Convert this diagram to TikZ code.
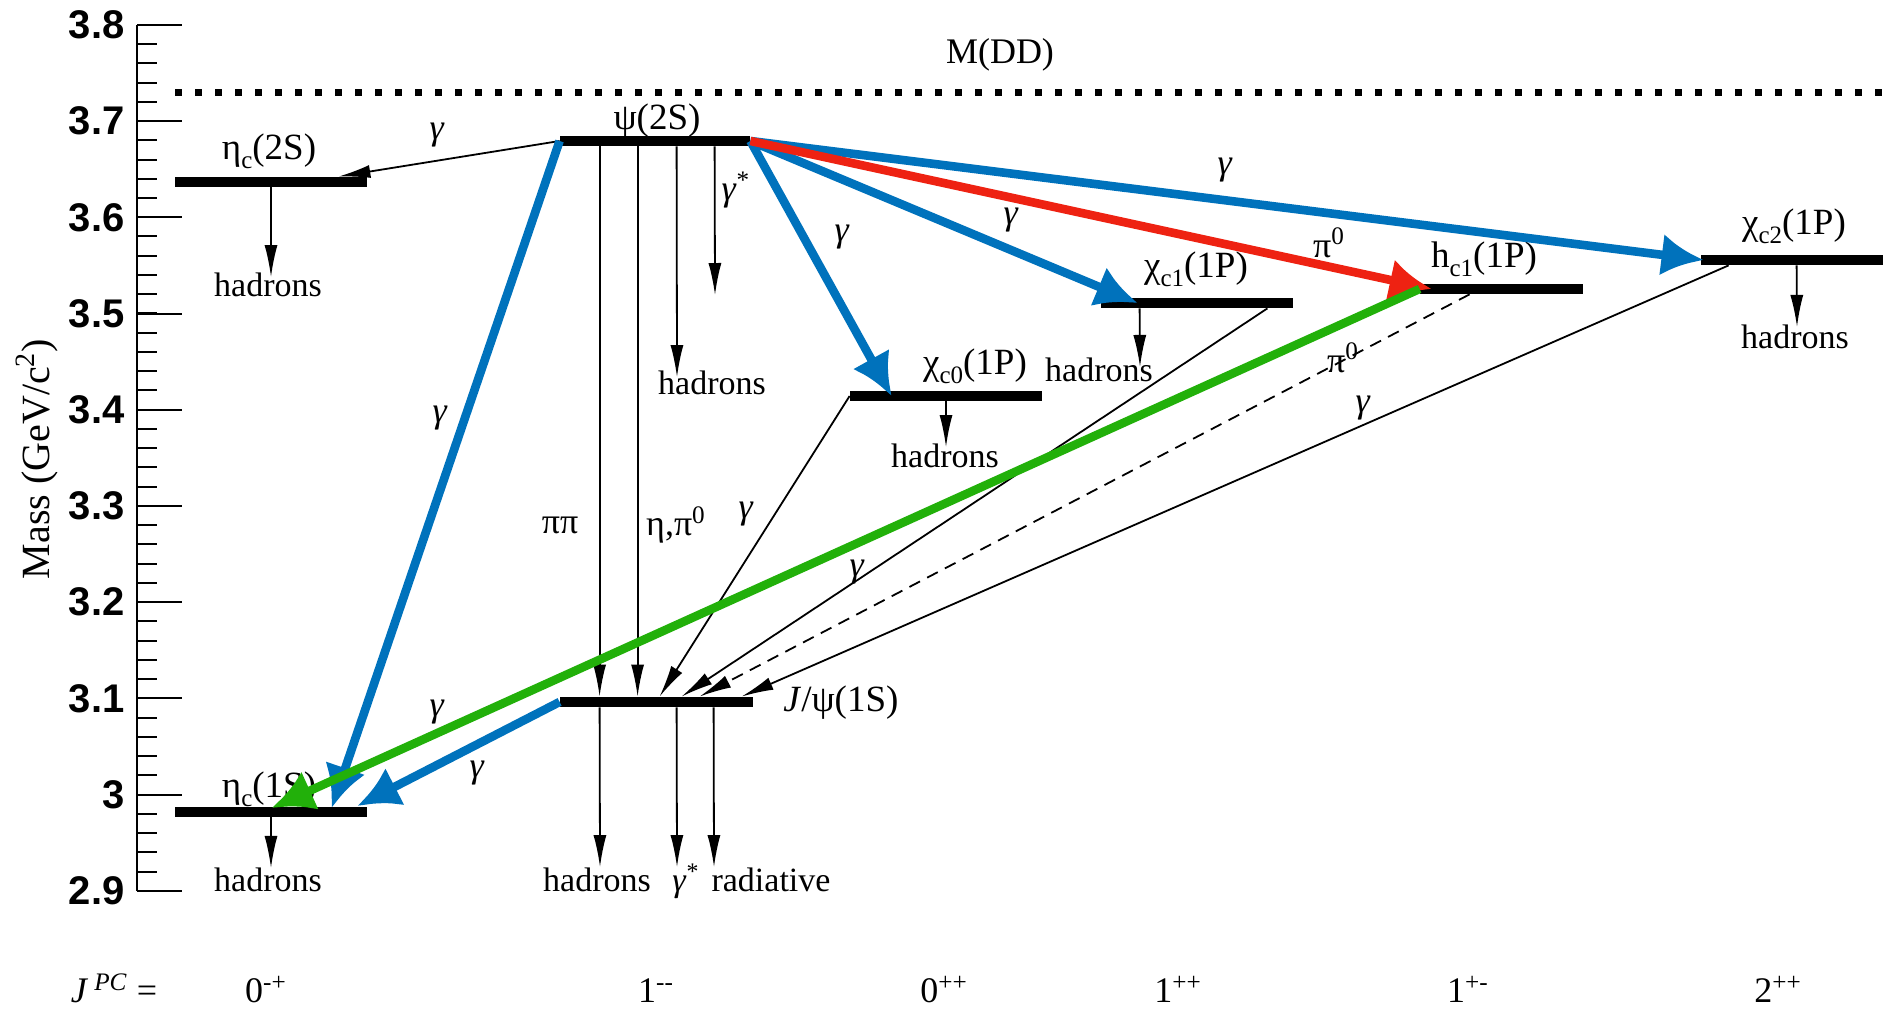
\documentclass[tikz,border=0pt]{standalone}
\usepackage{fontspec}
\setmainfont{Liberation Serif}
\newfontfamily\ticksans{Liberation Sans}
\usetikzlibrary{arrows.meta}
\definecolor{gamblue}{HTML}{0072BC}
\definecolor{pired}{HTML}{EE2212}
\definecolor{hgreen}{HTML}{22B00A}
\tikzset{
  >={Latex[length=16pt,width=6.5pt]},
  tr/.style={->,line width=0.9pt},
  fat/.style={-{Latex[length=21pt,width=21pt]},line width=4.3pt},
}
\newcommand{\lsub}[1]{\raisebox{-4.5pt}{\fontsize{12.5}{13}\selectfont #1}}
\newcommand{\gam}{\textit{γ}}

\begin{document}
\begin{tikzpicture}[x=0.5pt,y=481pt,
  level/.style={fill=black,inner sep=0pt,minimum height=5pt},
  state/.style={anchor=base,inner sep=0pt,font=\fontsize{18.5}{20}\selectfont},
  fin/.style={anchor=base,inner sep=0pt,font=\fontsize{17}{19}\selectfont},
  lab/.style={inner sep=0pt,font=\fontsize{18}{20}\selectfont},
  jpc/.style={anchor=base,inner sep=0pt,font=\fontsize{18}{20}\selectfont},
  tick/.style={anchor=east,inner sep=0pt,font=\ticksans\bfseries\fontsize{20}{22}\selectfont},
  axis/.style={line width=1pt},
]
  \useasboundingbox (0,2.7771) rectangle (1883,3.826);

  % mass axis
  \draw[axis] (137,2.9) -- (137,3.8);
  \foreach \i in {0,...,45}
    \draw[axis] (137,2.9+0.02*\i) -- ++(20,0);
  \foreach \m [count=\i] in {2.9,3,3.1,3.2,3.3,3.4,3.5,3.6,3.7,3.8} {
    \draw[axis] (137,\m) -- ++(45,0);
    \node[tick] (t\i) at (125,\m) {\m};
  }
  \node[rotate=90,inner sep=0pt,font=\fontsize{20}{22}\selectfont] (ylab) at (37,3.3489)
    {Mass (GeV/c\textsuperscript{2})};

  % DD threshold
  \coordinate (ddL) at (175,3.7293);
  \coordinate (ddR) at (1883,3.7293);
  \draw[line width=3.5pt,dash pattern=on 3.5pt off 6.5pt] (ddL) -- (ddR);
  \node[lab] (mdd) at (1000,3.7688) {M(DD)};

  % levels
  \node[level,minimum width=96pt] (etac2S) at (271,3.6368) {};
  \node[level,minimum width=96pt] (etac1S) at (271,2.9819) {};
  \node[level,minimum width=95pt] (psi2S) at (655,3.6794) {};
  \node[level,minimum width=96.5pt] (Jpsi) at (656.5,3.0963) {};
  \node[level,minimum width=96pt] (chic0) at (946,3.4143) {};
  \node[level,minimum width=96pt] (chic1) at (1197,3.511) {};
  \node[level,minimum width=81.5pt] (hc1) at (1501.5,3.5256) {};
  \node[level,minimum width=91pt] (chic2) at (1792,3.5557) {};

  \node[state] (lEtac2S) at (269,3.6597) {η\lsub{c}(2S)};
  \node[state] (lEtac1S) at (269,2.9965) {η\lsub{c}(1S)};
  \node[state] (lPsi2S) at (657,3.6909) {ψ(2S)};
  \node[state,anchor=base west] (lJpsi) at (783,3.0859) {\textit{J}/ψ(1S)};
  \node[state] (lChic0) at (975,3.4362) {χ\lsub{c0}(1P)};
  \node[state] (lChic1) at (1196,3.537) {χ\lsub{c1}(1P)};
  \node[state] (lHc1) at (1484,3.5484) {h\lsub{c1}(1P)};
  \node[state] (lChic2) at (1794,3.5817) {χ\lsub{c2}(1P)};

  % final states
  \node[fin] (hEtac2S) at (268,3.5173) {hadrons};
  \node[fin] (hEtac1S) at (268,2.8988) {hadrons};
  \node[fin] (hPsi2S) at (712,3.4154) {hadrons};
  \node[fin] (hChic0) at (945,3.3395) {hadrons};
  \node[fin] (hChic1) at (1099,3.4289) {hadrons};
  \node[fin] (hChic2) at (1795,3.4642) {hadrons};
  \node[fin] (hJpsi) at (597,2.8988) {hadrons};
  \node[fin] (sJpsi) at (686,2.8988) {\gam\textsuperscript{*}};
  \node[fin] (rJpsi) at (771,2.8988) {radiative};

  \coordinate (eEtac2S) at (271,3.538);
  \coordinate (eEtac1S) at (271,2.9237);
  \coordinate (ePsiHad) at (677,3.434);
  \coordinate (ePsiGam) at (715,3.5193);
  \coordinate (eChic0) at (946,3.3613);
  \coordinate (eChic1) at (1140,3.4445);
  \coordinate (eChic2) at (1797,3.4861);
  \coordinate (eJHad) at (600,2.9247);
  \coordinate (eJGam) at (677,2.9247);
  \coordinate (eJRad) at (714,2.9247);

  \draw[tr] (etac2S.south) -- (eEtac2S);
  \draw[tr] (etac1S.south) -- (eEtac1S);
  \draw[tr] ([xshift=58.5pt]psi2S.south west) -- (ePsiHad);
  \draw[tr] ([xshift=77.5pt]psi2S.south west) -- (ePsiGam);
  \draw[tr] (chic0.south) -- (eChic0);
  \draw[tr] ([xshift=19.5pt]chic1.south west) -- (eChic1);
  \draw[tr] ([xshift=48pt]chic2.south west) -- (eChic2);
  \draw[tr] ([xshift=20pt]Jpsi.south west) -- (eJHad);
  \draw[tr] ([xshift=58.5pt]Jpsi.south west) -- (eJGam);
  \draw[tr] ([xshift=77pt]Jpsi.south west) -- (eJRad);
  \node[lab] (gstar) at (736,3.6285) {\gam\textsuperscript{*}};

  % thin transitions
  \draw[tr] (psi2S.west) -- ([xshift=-14.5pt]etac2S.north east);
  \draw[tr] ([xshift=20pt]psi2S.south west) -- ([xshift=20pt]Jpsi.north west);
  \draw[tr] ([xshift=39pt]psi2S.south west) -- ([xshift=39pt]Jpsi.north west);
  \draw[tr] (chic0.west) -- ([xshift=50pt]Jpsi.north west);
  \draw[tr] ([xshift=-13pt]chic1.south east) -- ([xshift=61pt]Jpsi.north west);
  \draw[tr,dash pattern=on 6pt off 4pt] ([xshift=25pt]hc1.south west) -- ([xshift=70pt]Jpsi.north west);
  \draw[tr] ([xshift=14pt]chic2.south west) -- ([xshift=91pt]Jpsi.north west);

  \node[lab] (gA) at (437,3.6857) {\gam};
  \node[lab] (pipi) at (560,3.2802) {ππ};
  \node[lab] (etapi) at (676,3.2802) {η,π\textsuperscript{0}};
  \node[lab] (gF) at (746,3.2917) {\gam};
  \node[lab] (gG) at (857,3.2314) {\gam};
  \node[lab] (pB) at (1343,3.4538) {π\textsuperscript{0}};
  \node[lab] (gH) at (1363,3.4019) {\gam};

  % thick transitions
  \draw[fat,gamblue] (psi2S.west) -- ([xshift=78.5pt,yshift=2pt]etac1S.west);
  \draw[fat,gamblue] (psi2S.east) -- ([xshift=21pt]chic0.west);
  \draw[fat,gamblue] (psi2S.east) -- ([xshift=18.5pt]chic1.west);
  \draw[fat,gamblue] (psi2S.east) -- ([xshift=1.5pt]chic2.west);
  \draw[fat,pired] (psi2S.east) -- ([xshift=6pt]hc1.west);
  \draw[fat,gamblue] (Jpsi.west) -- ([xshift=-5pt,yshift=3pt]etac1S.east);
  \draw[fat,hgreen] (hc1.west) -- ([xshift=48.5pt,yshift=2pt]etac1S.west);

  \node[lab] (gB) at (440,3.3915) {\gam};
  \node[lab] (gC) at (842,3.5796) {\gam};
  \node[lab] (gD) at (1011,3.5973) {\gam};
  \node[lab] (gE) at (1225,3.6493) {\gam};
  \node[lab] (pA) at (1329,3.5734) {π\textsuperscript{0}};
  \node[lab] (gI) at (437,3.0859) {\gam};
  \node[lab] (gJ) at (477,3.0224) {\gam};

  % quantum numbers
  \node[jpc] (jpcT) at (114,2.7834) {\textit{J}\,\textsuperscript{\textit{PC}} =};
  \node[jpc] (q1) at (266,2.7834) {0\textsuperscript{-+}};
  \node[jpc] (q2) at (656,2.7834) {1\textsuperscript{-{}-}};
  \node[jpc] (q3) at (944,2.7834) {0\textsuperscript{++}};
  \node[jpc] (q4) at (1178,2.7834) {1\textsuperscript{++}};
  \node[jpc] (q5) at (1468,2.7834) {1\textsuperscript{+-}};
  \node[jpc] (q6) at (1778,2.7834) {2\textsuperscript{++}};
\end{tikzpicture}
\end{document}
